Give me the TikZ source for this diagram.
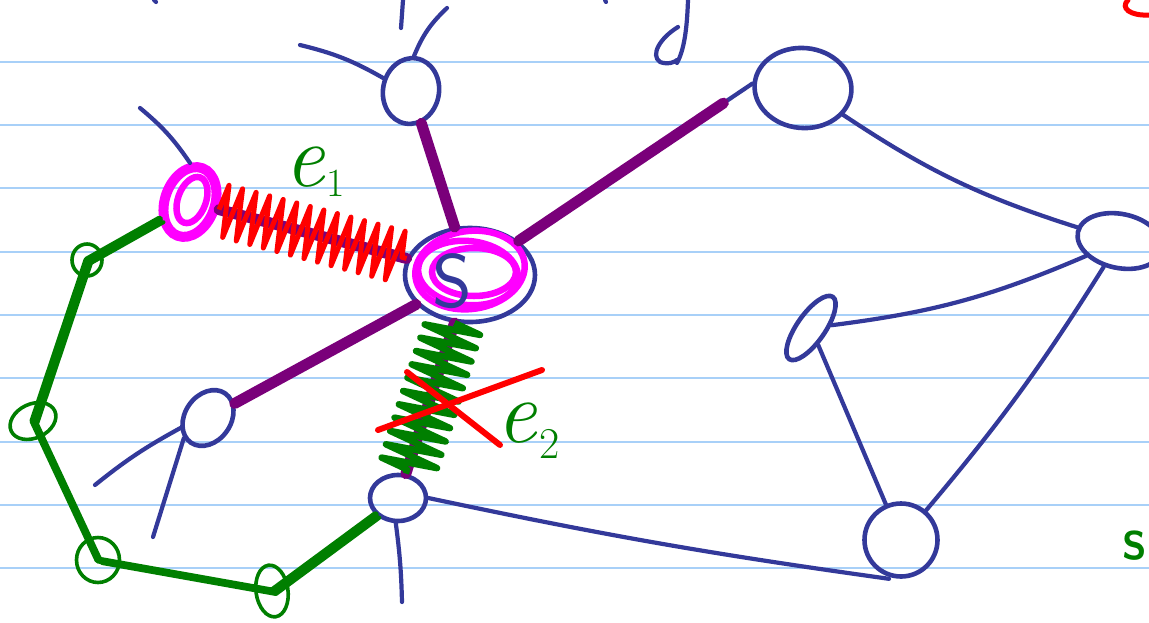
\documentclass[tikz,border=0pt]{standalone}
\usepackage{fontspec}
\usetikzlibrary{shapes.geometric,decorations.pathmorphing}
\definecolor{inkblue}{HTML}{33399A}
\definecolor{inkpurple}{HTML}{7A007A}
\definecolor{inkmag}{HTML}{FF00FF}
\definecolor{inkgreen}{HTML}{007F00}
\definecolor{inkred}{HTML}{FF0000}
\definecolor{rulecol}{HTML}{A8D0F8}
\begin{document}
\begin{tikzpicture}[x=1pt,y=-1pt,
  ink/.style={draw=inkblue,line width=4.2pt,line cap=round},
  vtx/.style={ellipse,draw=inkblue,line width=4.6pt,inner sep=0pt},
  gvtx/.style={ellipse,draw=inkgreen,line width=3.6pt,inner sep=0pt},
  mvtx/.style={ellipse,draw=inkmag,line width=10pt,inner sep=0pt},
  pedge/.style={draw=inkpurple,line width=11pt,line cap=round},
  gpath/.style={draw=inkgreen,line width=7pt,line cap=round,line join=round},
  redzz/.style={draw=inkred,line width=5pt,line join=round,decorate,decoration={zigzag,amplitude=26pt,segment length=14pt}},
  grnzz/.style={draw=inkgreen,line width=6.5pt,line join=round,decorate,decoration={zigzag,amplitude=28pt,segment length=14pt}},
  redx/.style={draw=inkred,line width=6pt,line cap=round},
  rulel/.style={draw=rulecol,line width=2.4pt},
  lbl/.style={text=inkgreen,inner sep=0pt},
  magscrib/.style={draw=inkmag,line width=6.5pt},
]
\useasboundingbox (0,0) rectangle (1149,622);
\clip (0,0) rectangle (1149,622);
\fill[white] (0,0) rectangle (1149,622);
\foreach \yy in {62,125,188,252,315,378,442,505,568}
  \draw[rulel] (0,\yy) -- (1149,\yy);

% ---- vertices ----
\node[vtx, minimum width=130pt, minimum height=94pt] (S) at (470,275) {};
\node[vtx, minimum width=56pt, minimum height=66pt, rotate=-10] (T) at (411,91) {};
\node[mvtx, minimum width=50pt, minimum height=72pt, rotate=-20] (M) at (190,202) {};
\node[vtx, minimum width=46pt, minimum height=60pt, rotate=-35] (L) at (208,418) {};
\node[vtx, minimum width=56pt, minimum height=46pt] (B) at (398,498) {};
\node[vtx, minimum width=97pt, minimum height=80pt, rotate=-5] (TR) at (803,88) {};
\node[vtx, minimum width=86pt, minimum height=54pt, rotate=-12] (R) at (1120,241) {};
\node[vtx, minimum width=28pt, minimum height=76pt, rotate=-35] (MR) at (811,328) {};
\node[vtx, minimum width=73pt, minimum height=73pt] (BR) at (901,540) {};
\node[gvtx, minimum width=30pt, minimum height=32pt] (G1) at (87,260) {};
\node[gvtx, minimum width=48pt, minimum height=34pt, rotate=25] (G2) at (33,421) {};
\node[gvtx, minimum width=43pt, minimum height=45pt] (G3) at (98,560) {};
\node[gvtx, minimum width=32pt, minimum height=52pt, rotate=8] (G4) at (272,591) {};

% ---- free ends ----
\coordinate (tT1) at (300,45);
\coordinate (tT2) at (447,8);
\coordinate (tM) at (140,108);
\coordinate (tL1) at (95,485);
\coordinate (tL2) at (153,537);
\coordinate (tB) at (402,602);

% ---- blue graph edges ----
\draw[ink] (tT1) to[bend left=8] (T.165);
\draw[ink] (tT2) to[bend right=12] (T.95);
\draw[ink] (403,0) -- (401,28);
\draw[ink] (154,0) -- (156,2);
\draw[ink] (605,0) -- (606,2);
\draw[ink] (688,0) .. controls (687,30) and (684,50) .. (677,63);
\draw[ink] (678,27) .. controls (660,38) and (650,55) .. (660,62) .. controls (668,65) and (675,62) .. (677,60);
\draw[ink] (tM) to[bend left=8] (M.110);
\draw[ink] (tL1) to[bend left=5] (L.235);
\draw[ink] (tL2) -- (L.255);
\draw[ink] (B.265) to[bend left=3] (tB);
\draw[ink] (T) -- (S);
\draw[ink] (M) -- (S);
\draw[ink] (L) -- (S);
\draw[ink] (B) -- (S);
\draw[ink] (S.35) -- (TR.west);
\draw[ink] (TR) to[bend right=8] (R);
\draw[ink] (MR) to[bend right=8] (R);
\draw[ink] (R) to[bend left=4] (BR);
\draw[ink] (MR) -- (BR);
\draw[ink] (B.east) to[bend right=2] ([xshift=-12pt]BR.south);
\draw[ink] (G4) -- (B);

% ---- magenta scribbles ----
\draw[magscrib, rotate around={8:(470,270)}] (470,270) ellipse [x radius=55pt, y radius=39pt];
\draw[magscrib, rotate around={-6:(468,273)}] (468,273) ellipse [x radius=50pt, y radius=32pt];
\draw[magscrib] (474,272) ellipse [x radius=42pt, y radius=24pt];
\draw[magscrib, rotate around={-20:(192,200)}] (192,200) ellipse [x radius=14pt, y radius=24pt];
\node[text=inkblue, font=\sffamily\fontsize{76}{76}\selectfont, inner sep=0pt] (Slbl) at (452,281) {S};

% ---- purple (chosen) edges ----
\draw[pedge] (T) -- (S);
\draw[pedge] (M) -- (S);
\draw[pedge] (L) -- (S);
\draw[pedge] (B) -- (S);
\draw[pedge, shorten >=35pt] (S.35) -- (TR.west);

% ---- green cycle ----
\draw[gpath] (M) -- (G1.center) -- (G2.center) -- (G3.center) -- (G4.center) -- (B);
\draw[gpath, line width=4pt, transform canvas={shift={(4pt,-3pt)}}] (M) -- (G1.center) -- (G2.center) -- (G3.center) -- (G4.center) -- (B);

% ---- zigzags ----
\draw[redzz] (M) -- (S);
\draw[grnzz] (S) -- (B);

% ---- red cross ----
\draw[redx] (378,430) -- (542,370);
\draw[redx] (407,372) -- (500,445);

% ---- labels ----
\node[lbl, anchor=base west] (e1) at (284,186) {\fontsize{90}{90}\selectfont\itshape e\kern2pt\raisebox{-10pt}{\fontsize{40}{40}\selectfont\upshape 1}};
\node[lbl, anchor=base west] (e2) at (496,442) {\fontsize{90}{90}\selectfont\itshape e\kern3pt\raisebox{-16pt}{\fontsize{44}{44}\selectfont\upshape 2}};
\node[lbl, anchor=east, font=\sffamily\bfseries\fontsize{40}{40}\selectfont] (Sg) at (1147,546) {S};
\draw[inkred, line width=5pt, line cap=round] (1149,15) .. controls (1130,16) and (1120,8) .. (1128,0);
\end{tikzpicture}
\end{document}
